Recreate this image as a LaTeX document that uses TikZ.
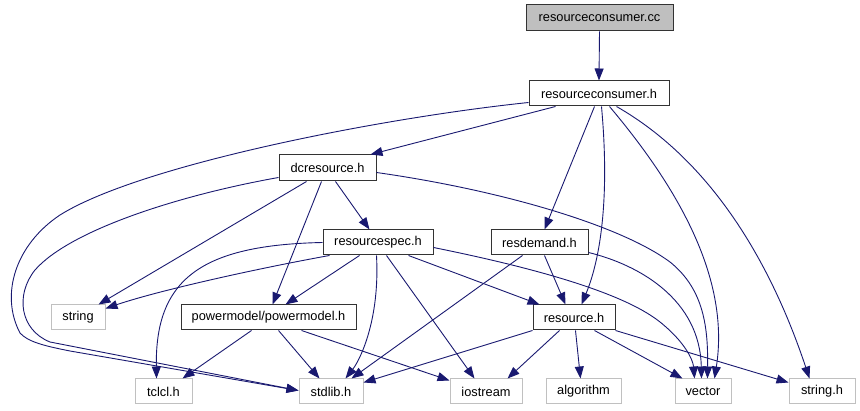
\documentclass[tikz,border=0pt]{standalone}
\usepackage{fontspec}
\setmainfont{Liberation Sans}
\usetikzlibrary{arrows.meta,calc}
\definecolor{edgeblue}{HTML}{191970}
\definecolor{lgray}{HTML}{C0C0C0}
\definecolor{fgray}{HTML}{BFBFBF}
\tikzset{
  filebox/.style={draw=black!80, line width=1pt, inner sep=0pt, font=\fontsize{12.8}{15}\selectfont, text=black},
  sysbox/.style={draw=lgray, line width=1pt, inner sep=0pt, font=\fontsize{12.8}{15}\selectfont, text=black},
  dep/.style={draw=edgeblue, line width=0.9pt, -{Triangle[length=12pt,width=9pt]}, color=edgeblue},
}
\begin{document}
\begin{tikzpicture}[x=1pt,y=-1pt]
\useasboundingbox (0,0) rectangle (860,411);
% nodes
\node[filebox, fill=fgray, minimum width=147pt, minimum height=26pt] (cc) at (599.5,18) {resourceconsumer.cc};
\node[filebox, minimum width=140pt, minimum height=25pt] (rch) at (599,93.5) {resourceconsumer.h};
\node[filebox, minimum width=97pt, minimum height=26pt] (dcr) at (327.5,168) {dcresource.h};
\node[filebox, minimum width=110pt, minimum height=25pt] (rspec) at (378,242.5) {resourcespec.h};
\node[filebox, minimum width=97pt, minimum height=25pt] (resd) at (539.5,242.5) {resdemand.h};
\node[sysbox, minimum width=54pt, minimum height=25pt] (string) at (78,317.5) {string};
\node[filebox, minimum width=175pt, minimum height=25pt] (pm) at (268.5,317.5) {powermodel/powermodel.h};
\node[filebox, minimum width=82pt, minimum height=25pt] (res) at (574,317.5) {resource.h};
\node[sysbox, minimum width=57pt, minimum height=25pt] (tclcl) at (163.5,391.5) {tclcl.h};
\node[sysbox, minimum width=64pt, minimum height=25pt] (stdlib) at (331,391.5) {stdlib.h};
\node[sysbox, minimum width=72pt, minimum height=25pt] (iostream) at (486,391.5) {iostream};
\node[sysbox, minimum width=75pt, minimum height=25pt] (algorithm) at (583.5,391.5) {algorithm};
\node[sysbox, minimum width=56pt, minimum height=25pt] (vector) at (703,391.5) {vector};
\node[sysbox, minimum width=66pt, minimum height=25pt] (stringh) at (822,391.5) {string.h};
% edges
\draw[dep] (cc.south) -- (rch.north);
\draw[dep] ($(rch.south west)+(27,0)$) -- ($(dcr.north east)+(-6,0)$);
\draw[dep] ($(rch.south west)+(0,-4)$) .. controls (380,118) and (140,165) .. (60,215)
   .. controls (15,245) and (0,295) .. (20,333) .. controls (28,342) and (45,346) .. (70,351)
   -- ($(stdlib.north west)+(0,12)$);
\draw[dep] ($(dcr.south west)+(0,-4)$) .. controls (180,195) and (70,230) .. (35,270)
   .. controls (15,295) and (20,330) .. (50,342) -- ($(stdlib.north west)+(0,12)$);
\draw[dep] ($(dcr.south west)+(28,0)$) -- ($(string.north east)+(-7,0)$);
\draw[dep] ($(dcr.south west)+(43,0)$) -- ($(pm.north west)+(92,0)$);
\draw[dep] ($(dcr.south west)+(57,0)$) -- ($(rspec.north west)+(47,0)$);
\draw[dep] ($(dcr.north east)+(0,18)$) .. controls (500,190) and (620,225) .. (670,262)
   .. controls (705,290) and (708,330) .. ($(vector.north west)+(33,0)$);
\draw[dep] ($(rch.south west)+(66,0)$) -- ($(resd.north west)+(54,0)$);
\draw[dep] ($(rch.south west)+(73,0)$) .. controls (610,200) and (600,260) .. ($(res.north west)+(49,0)$);
\draw[dep] ($(rch.south west)+(81,0)$) .. controls (680,190) and (730,280) .. ($(vector.north west)+(40,0)$);
\draw[dep] ($(rch.south west)+(88,0)$) .. controls (710,160) and (770,260) .. ($(stringh.north west)+(21,0)$);
\draw[dep] ($(rspec.north west)+(0,13)$) .. controls (200,245) and (155,280) .. ($(tclcl.north west)+(22,0)$);
\draw[dep] ($(rspec.south west)+(7,0)$) .. controls (260,268) and (160,290) .. ($(string.north east)+(0,4)$);
\draw[dep] ($(rspec.south west)+(37,0)$) -- ($(pm.north west)+(105,0)$);
\draw[dep] ($(rspec.south west)+(54,0)$) .. controls (380,320) and (360,360) .. ($(stdlib.north west)+(47,0)$);
\draw[dep] ($(rspec.south west)+(64,0)$) -- ($(iostream.north west)+(25,0)$);
\draw[dep] ($(rspec.south west)+(86,0)$) -- ($(res.north west)+(7,0)$);
\draw[dep] ($(rspec.north east)+(0,18)$) .. controls (520,265) and (620,290) .. (660,322)
   .. controls (685,342) and (693,360) .. ($(vector.north west)+(20,0)$);
\draw[dep] ($(resd.south west)+(32,0)$) -- ($(stdlib.north west)+(53,0)$);
\draw[dep] ($(resd.south west)+(54,0)$) -- ($(res.north west)+(33,0)$);
\draw[dep] ($(resd.south east)+(0,-3)$) .. controls (640,265) and (700,300) .. ($(vector.north west)+(27,0)$);
\draw[dep] ($(pm.south west)+(71,0)$) -- ($(tclcl.north west)+(48,0)$);
\draw[dep] ($(pm.south west)+(98,0)$) -- ($(stdlib.north west)+(21,0)$);
\draw[dep] ($(pm.south west)+(121,0)$) -- ($(iostream.north west)+(0,2)$);
\draw[dep] (res.south west) -- ($(stdlib.north east)+(0,4)$);
\draw[dep] ($(res.south west)+(27,0)$) -- ($(iostream.north west)+(58,0)$);
\draw[dep] ($(res.south west)+(43,0)$) -- ($(algorithm.north west)+(35,0)$);
\draw[dep] ($(res.south west)+(62,0)$) -- ($(vector.north west)+(8,0)$);
\draw[dep] (res.south east) -- ($(stringh.north west)+(0,4)$);
\end{tikzpicture}
\end{document}
